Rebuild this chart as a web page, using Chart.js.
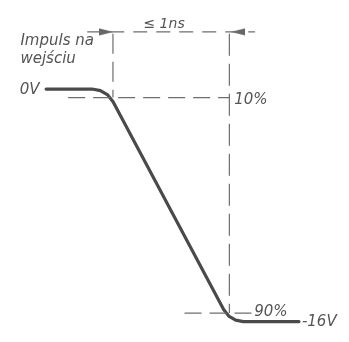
<!DOCTYPE html>
<html>
<head>
<meta charset="utf-8">
<script src="https://cdn.jsdelivr.net/npm/chart.js@4/dist/chart.umd.min.js"></script>
<style>
  html, body { margin: 0; padding: 0; background: #fff; }
</style>
</head>
<body>
<canvas id="pulse" width="349" height="342"></canvas>
<script>
// ── Pulse data: time in ns (0 = 10% point, 1 = 90% point), level in volts ──
// knees read as a few points along the rounded corners
const pulseT = [-0.574, -0.180, -0.108, -0.045, 0.001, 0.952, 0.995, 1.054, 1.121, 1.598];
const pulseV = [0, 0, -0.105, -0.407, -0.872, -15.19, -15.62, -15.90, -16, -16];

// ── Guide lines (10% / 90% levels, 1 ns dimension) ──
const level10 = -0.59;
const level90 = -15.41;
const guide10T = [-0.385, 1.0];
const guide90T = [0.615, 1.205];
const markerTopV = 3.80;
const dimV = 3.93;
const dimT = [-0.221, 1.221];
const arrowT = [-0.057, 1.074];

// ── Text labels ──
const labelText  = ['Impuls na', 'wejściu', '0V', '≤ 1ns', '10%', '90%', '-16V'];
const labelT     = [-0.795, -0.795, -0.631, 0.439, 1.041, 1.213, 1.623];
const labelV     = [3.28, 2.03, -0.07, 4.43, -0.79, -15.34, -16.0];
const labelAlign = ['left', 'left', 'right', 'center', 'left', 'left', 'left'];
const labelSize  = [15, 15, 15, 14, 15, 15, 15];

const INK  = '#4a4a4a';
const DASH = '#6e6e6e';

const pts = (xs, ys) => xs.map((x, i) => ({ x, y: ys[i] }));

// elongated arrowhead pointing right
function arrowImg() {
  const c = document.createElement('canvas');
  c.width = 14; c.height = 8;
  const g = c.getContext('2d');
  g.fillStyle = '#666';
  g.beginPath(); g.moveTo(0, 0.5); g.lineTo(14, 4); g.lineTo(0, 7.5); g.closePath(); g.fill();
  return c;
}

const dashed = (data, dash) => ({
  data, showLine: true, pointRadius: 0, borderColor: DASH,
  borderWidth: 1.2, borderDash: dash, fill: false,
});

const labelsPlugin = {
  id: 'labels',
  afterDraw(chart) {
    const { ctx, scales: { x, y } } = chart;
    ctx.save();
    ctx.fillStyle = '#555';
    ctx.textBaseline = 'middle';
    labelText.forEach((t, i) => {
      ctx.font = `italic 300 ${labelSize[i]}px "DejaVu Sans", sans-serif`;
      ctx.textAlign = labelAlign[i];
      ctx.fillText(t, x.getPixelForValue(labelT[i]), y.getPixelForValue(labelV[i]));
    });
    ctx.restore();
  },
};

new Chart(document.getElementById('pulse'), {
  type: 'scatter',
  data: {
    datasets: [
      dashed(pts(guide10T, [level10, level10]), [17, 8]),
      dashed(pts(guide90T, [level90, level90]), [17, 8]),
      dashed(pts([0, 0], [markerTopV, level10]), [20, 8]),
      dashed(pts([1, 1], [markerTopV, level90]), [22, 8]),
      dashed(pts(dimT, [dimV, dimV]), [14, 9]),
      {
        data: pts(arrowT, [dimV, dimV]),
        showLine: false,
        pointStyle: arrowImg(),
        pointRotation: [0, 180],
        pointRadius: 7,
      },
      {
        data: pts(pulseT, pulseV),
        showLine: true,
        borderColor: INK,
        borderWidth: 3.2,
        borderJoinStyle: 'round',
        borderCapStyle: 'round',
        pointRadius: 0,
        tension: 0,
        fill: false,
      },
    ],
  },
  options: {
    responsive: false,
    animation: false,
    layout: { padding: 0 },
    plugins: { legend: { display: false }, tooltip: { enabled: false } },
    scales: {
      x: { type: 'linear', min: -0.9016, max: 1.959, display: false },
      y: { type: 'linear', min: -16.852, max: 5.574, display: false },
    },
  },
  plugins: [labelsPlugin],
});
</script>
</body>
</html>
